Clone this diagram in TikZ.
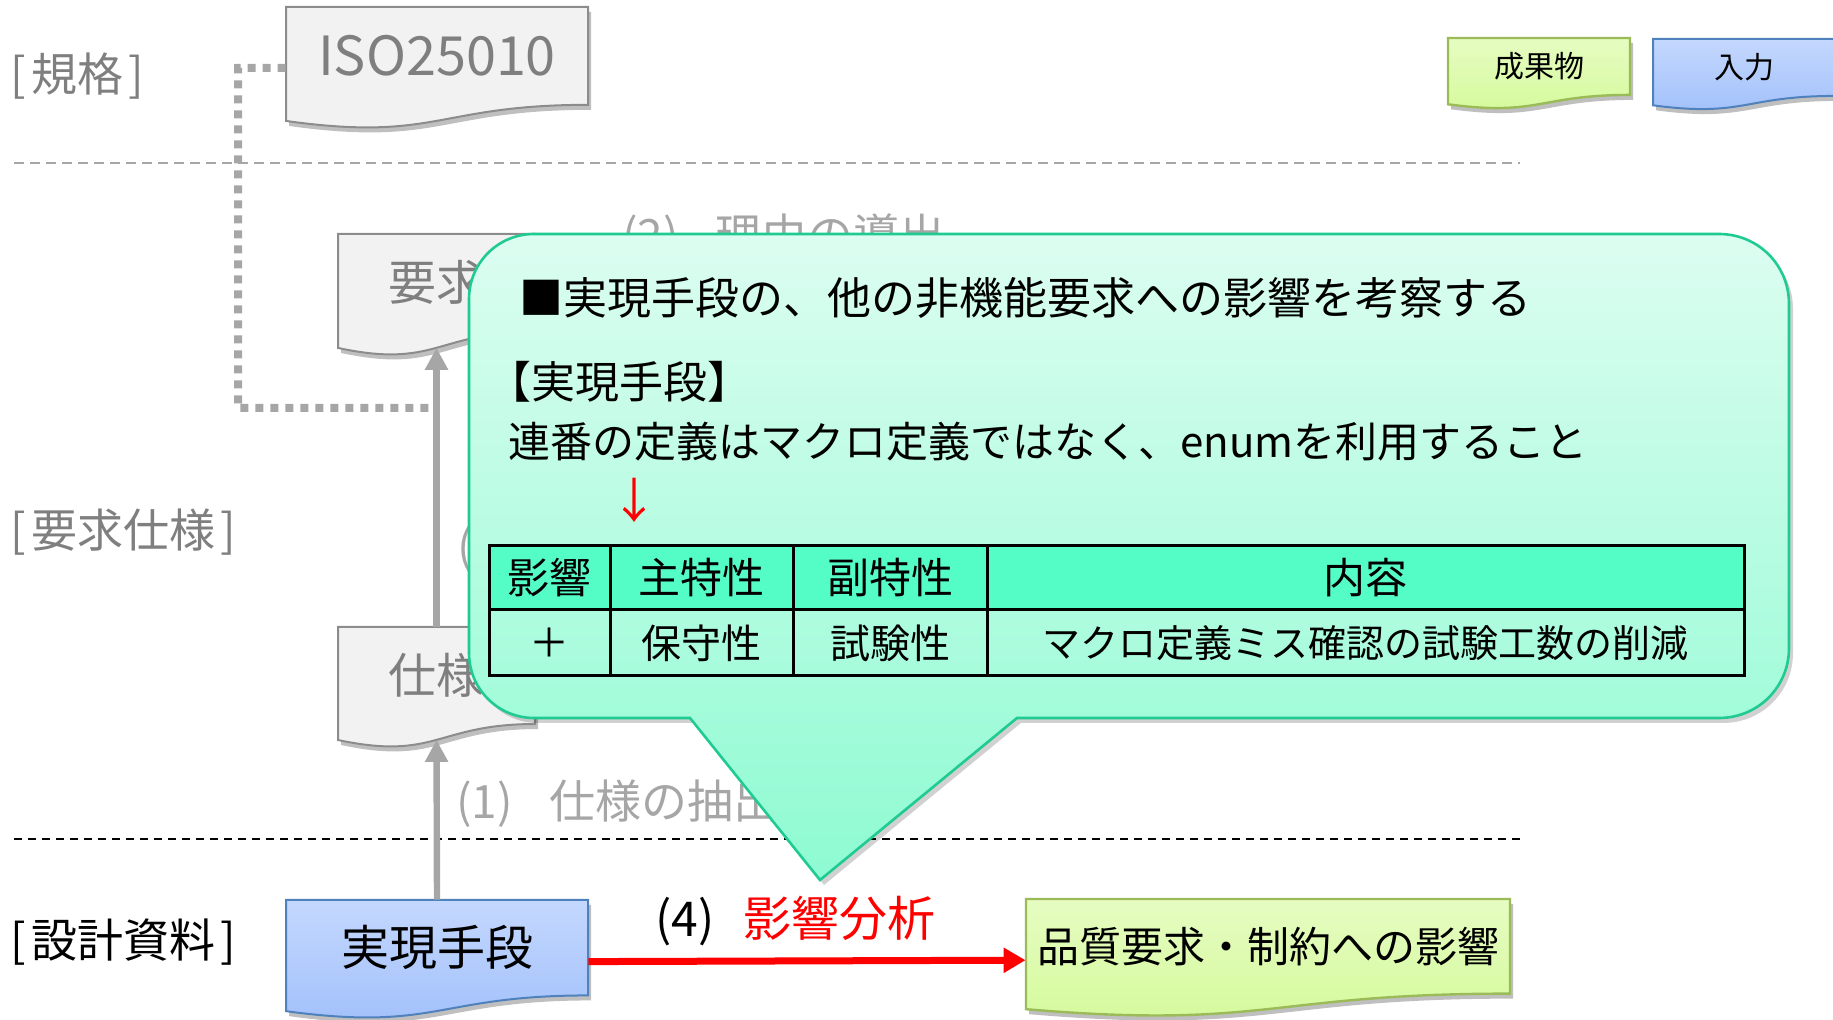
\documentclass[tikz,border=0pt]{standalone}
\usepackage{fontspec}
\setmainfont{Noto Sans CJK JP}
\usetikzlibrary{arrows.meta,shadows}
\definecolor{gtext}{HTML}{7F7F7F}
\definecolor{ltext}{HTML}{A6A6A6}
\definecolor{gline}{HTML}{A6A6A6}
\definecolor{gfill}{HTML}{F2F2F2}
\definecolor{gborder}{HTML}{8C8C8C}
\definecolor{btop}{HTML}{C4D8FE}
\definecolor{bbot}{HTML}{A0BFFA}
\definecolor{bborder}{HTML}{4F81BD}
\definecolor{ntop}{HTML}{E6FCC2}
\definecolor{nbot}{HTML}{D4FA9A}
\definecolor{nborder}{HTML}{9BBB59}
\definecolor{ctop}{HTML}{DCFDF1}
\definecolor{cbot}{HTML}{8EFBD2}
\definecolor{cborder}{HTML}{1FCB93}
\definecolor{thead}{HTML}{55FDC6}
\definecolor{rline}{HTML}{FF0000}

% name, L, T, R, H, shape style, text style, text
\newcommand{\docshape}[8]{%
  \path[#6] (#2,#3) -- (#4,#3) -- (#4,{#3+0.802*#5})
    .. controls ({(#2+#4)/2},{#3+0.802*#5}) and ({(#2+#4)/2},{#3+1.107*#5}) .. (#2,{#3+0.934*#5}) -- cycle;
  \node[inner sep=0pt,minimum width={(#4-#2)*0.5pt},minimum height={0.8*#5*0.5pt},#7] (#1)
    at ({(#2+#4)/2},{#3+0.4*#5}) {#8};
  \coordinate (#1-b) at ({(#2+#4)/2},{#3+0.933*#5});
}

\begin{document}
\begin{tikzpicture}[x=0.5pt,y=-0.5pt,
  docshadow/.style={drop shadow={shadow xshift=1.5pt,shadow yshift=-2.5pt,opacity=0.25,fill=black}},
  grayDoc/.style={draw=gborder,line width=1pt,fill=gfill,docshadow},
  blueDoc/.style={draw=bborder,line width=1pt,top color=btop,bottom color=bbot,docshadow},
  greenDoc/.style={draw=nborder,line width=1.2pt,top color=ntop,bottom color=nbot,docshadow},
  lanetext/.style={font=\fontsize{23}{27}\selectfont,inner sep=0pt},
  steplabel/.style={font=\fontsize{23}{27}\selectfont,text=ltext,inner sep=0pt,anchor=west},
  grayArrow/.style={draw=gline,line width=3.2pt,-{Triangle[length=11pt,width=11pt]}},
  redArrow/.style={draw=rline,line width=3.5pt,-{Triangle[length=11pt,width=12pt]}},
  dotline/.style={draw=gline,line width=4pt,dash pattern=on 4pt off 3.5pt},
  callout/.style={draw=cborder,line width=1.3pt,top color=ctop,bottom color=cbot,
     drop shadow={shadow xshift=2pt,shadow yshift=-2.5pt,opacity=0.18,fill=black}},
  ctext/.style={font=\fontsize{21}{25}\selectfont,inner sep=0pt,anchor=west},
  hcell/.style={font=\fontsize{21}{25}\selectfont,inner sep=0pt},
  rcell/.style={font=\fontsize{20}{24}\selectfont,inner sep=0pt}
]
\useasboundingbox (0,0) rectangle (1833,1020);
\clip (0,0) rectangle (1833,1020);

% lane separators
\draw[gline,line width=0.8pt,dash pattern=on 5pt off 3pt] (14,163) -- (1520,163);
\draw[black,line width=1pt,dash pattern=on 4pt off 3pt] (14,839) -- (1520,839);

% lane labels
\node[lanetext,text=gtext,anchor=west] (laneStd) at (10,76) {[\hspace{0.12em}規格\hspace{0.12em}]};
\node[lanetext,text=gtext,anchor=west] (laneReq) at (10,532) {[\hspace{0.12em}要求仕様\hspace{0.12em}]};
\node[lanetext,text=black,anchor=west] (laneDes) at (10,942) {[\hspace{0.12em}設計資料\hspace{0.12em}]};

% named points of the dotted connector
\coordinate (dotA) at (238,68);
\coordinate (dotB) at (238,408);
\coordinate (dotC) at (437,408);

% documents
\docshape{iso}{286}{7}{588}{122}{grayDoc}{font=\fontsize{27}{31}\selectfont,text=gtext}{ISO25010}
\docshape{yokyu}{338}{234}{535}{122}{grayDoc}{font=\fontsize{24}{28}\selectfont,text=gtext}{要求}
\docshape{shiyo}{338}{627}{535}{121}{grayDoc}{font=\fontsize{24}{28}\selectfont,text=gtext}{仕様}
\docshape{jitsu}{286}{900}{588}{119}{blueDoc}{font=\fontsize{24}{28}\selectfont,text=black}{実現手段}
\docshape{hinshitsu}{1026}{899}{1510}{118}{greenDoc}{font=\fontsize{21}{25}\selectfont,text=black}{品質要求・制約への影響}
\docshape{seika}{1448}{38}{1630}{71}{greenDoc}{font=\fontsize{15}{18}\selectfont,text=black}{成果物}
\docshape{nyuryoku}{1653}{39}{1835}{71}{blueDoc}{font=\fontsize{15}{18}\selectfont,text=black}{入力}

% connectors
\draw[dotline] ([yshift=-6pt]iso.west) -- (dotA) -- (dotB) -- (dotC);
\draw[grayArrow] (jitsu.north) -- (shiyo-b);
\draw[grayArrow] (shiyo.north) -- (yokyu-b);

% step labels (partly hidden by the callout)
\node[steplabel] (step1) at (456,804) {(1)\hspace{0.8em}仕様の抽出};
\node[steplabel] (step2) at (622,238) {(2)\hspace{0.8em}理由の導出};
\node[steplabel] (step3) at (457,549) {(3)};

% callout
\path[callout] (534,234) -- (1719,234) .. controls (1758,234) and (1789,265) .. (1789,304)
  -- (1789,648) .. controls (1789,687) and (1758,718) .. (1719,718)
  -- (1017,718) -- (820,880) -- (690,718) -- (534,718)
  .. controls (498,718) and (469,689) .. (469,653)
  -- (469,299) .. controls (469,263) and (498,234) .. cycle;

\node[ctext,font=\fontsize{22}{26}\selectfont] (ctitle) at (519,298) {■実現手段の、他の非機能要求への影響を考察する};
\node[ctext,font=\fontsize{22}{26}\selectfont] (cmeans) at (487,382) {【実現手段】};
\node[ctext] (cdesc) at (508,442) {連番の定義はマクロ定義ではなく、enumを利用すること};
\node[font=\fontsize{24}{28}\selectfont,text=rline,inner sep=0pt] (cdown) at (634,500) {↓};

% table
\fill[thead] (489,546) rectangle (1744,610);
\draw[black,line width=1.5pt] (489,546) rectangle (1744,676);
\draw[black,line width=1.5pt] (489,610) -- (1744,610);
\draw[black,line width=1.5pt] (610,546) -- (610,676);
\draw[black,line width=1.5pt] (793,546) -- (793,676);
\draw[black,line width=1.5pt] (987,546) -- (987,676);
\node[hcell] (h1) at (549.5,578) {影響};
\node[hcell] (h2) at (701.5,578) {主特性};
\node[hcell] (h3) at (890,578) {副特性};
\node[hcell] (h4) at (1365.5,578) {内容};
\node[rcell] (r1) at (549.5,643) {＋};
\node[rcell] (r2) at (701.5,643) {保守性};
\node[rcell] (r3) at (890,643) {試験性};
\node[rcell,font=\fontsize{19}{23}\selectfont] (r4) at (1365.5,643) {マクロ定義ミス確認の試験工数の削減};

% impact analysis arrow
\draw[redArrow] ([yshift=-7pt]jitsu.east) -- ([yshift=-7pt]hinshitsu.west);
\node[font=\fontsize{24}{28}\selectfont,inner sep=0pt,anchor=west] (step4) at (655,921) {(4)\hspace{0.6em}\textcolor{rline}{影響分析}};
\end{tikzpicture}
\end{document}
